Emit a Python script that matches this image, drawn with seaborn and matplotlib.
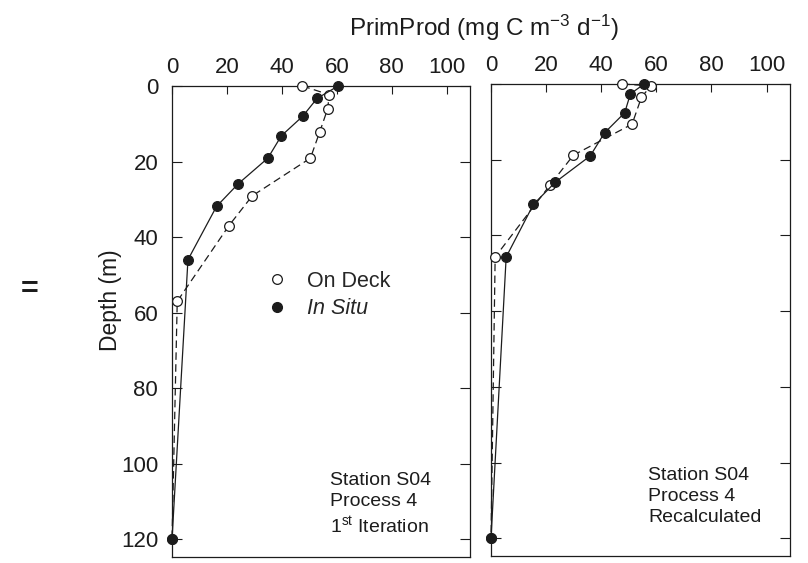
import matplotlib
matplotlib.use("Agg")
import matplotlib.pyplot as plt
import seaborn as sns
from matplotlib.lines import Line2D

# left panel: Station S04, Process 4, 1st iteration
iter_insitu_prod = [60.5, 52.8, 47.6, 39.8, 34.9, 24.1, 16.2, 5.8, 0.0]
iter_insitu_depth = [0, 3.3, 8.0, 13.2, 19.1, 25.9, 31.9, 46.0, 120]
iter_deck_prod = [47.5, 57.2, 56.7, 53.8, 50.4, 29.2, 20.7, 1.9, 0.0]
iter_deck_depth = [0, 2.3, 6.0, 12.1, 19.1, 29.1, 37.0, 57.0, 120]

# right panel: Station S04, Process 4, recalculated
recalc_insitu_prod = [55.6, 50.6, 48.5, 41.2, 36.0, 23.4, 15.4, 5.5, 0.0]
recalc_insitu_depth = [0, 2.6, 7.6, 12.9, 19.0, 25.9, 31.8, 45.7, 120]
recalc_deck_prod = [47.7, 58.0, 54.6, 51.2, 29.9, 21.4, 1.5, 0.0]
recalc_deck_depth = [0, 0.5, 3.5, 10.6, 18.8, 26.7, 45.7, 120]

x_ticks = [0, 20, 40, 60, 80, 100]
y_ticks = [0, 20, 40, 60, 80, 100, 120]

ink = "#1c1c1c"

sns.set_style("ticks")
plt.rcParams["font.family"] = ["Liberation Sans", "DejaVu Sans"]
plt.rcParams["mathtext.default"] = "regular"

fig = plt.figure(figsize=(8.08, 5.63), dpi=100)
ax1 = fig.add_axes([0.2129, 0.0107, 0.3688, 0.8366])
ax2 = fig.add_axes([0.6077, 0.0124, 0.3700, 0.8384])


def draw_panel(ax, insitu_x, insitu_y, deck_x, deck_y):
    sns.lineplot(x=deck_x, y=deck_y, sort=False, estimator=None, ax=ax,
                 color=ink, linewidth=0.9, linestyle=(0, (6, 3.5)),
                 marker="o", markersize=7, markerfacecolor="white",
                 markeredgecolor=ink, markeredgewidth=0.9, clip_on=False, zorder=3)
    sns.lineplot(x=insitu_x, y=insitu_y, sort=False, estimator=None, ax=ax,
                 color=ink, linewidth=0.9,
                 marker="o", markersize=7, markerfacecolor=ink,
                 markeredgecolor=ink, markeredgewidth=0.9, clip_on=False, zorder=4)
    ax.set_xlim(0, 108.5)
    ax.set_ylim(124.7, 0)
    ax.set_xticks(x_ticks)
    ax.set_yticks(y_ticks)
    ax.set_xlabel("")
    ax.set_ylabel("")
    ax.xaxis.tick_top()
    ax.tick_params(axis="x", direction="in", length=6, width=0.8, pad=6,
                   labelsize=16, top=True, bottom=False,
                   labeltop=True, labelbottom=False, colors=ink)
    ax.tick_params(axis="y", direction="in", length=7, width=0.8, pad=10,
                   labelsize=16, left=True, right=True, colors=ink)
    for s in ax.spines.values():
        s.set_visible(True)
        s.set_linewidth(0.9)
        s.set_color(ink)


draw_panel(ax1, iter_insitu_prod, iter_insitu_depth, iter_deck_prod, iter_deck_depth)
draw_panel(ax2, recalc_insitu_prod, recalc_insitu_depth, recalc_deck_prod, recalc_deck_depth)
ax2.tick_params(axis="y", labelleft=False)

ax1.set_ylabel("Depth (m)", fontsize=16.5, color=ink)
ax1.yaxis.set_label_coords(-0.168, 0.546)

handles = [
    Line2D([], [], linestyle="none", marker="o", markersize=7,
           markerfacecolor="white", markeredgecolor=ink, markeredgewidth=0.9),
    Line2D([], [], linestyle="none", marker="o", markersize=7,
           markerfacecolor=ink, markeredgecolor=ink),
]
leg = ax1.legend(handles, ["On Deck", "In Situ"], loc="center left",
                 bbox_to_anchor=(0.322, 0.556), frameon=False, fontsize=15.5,
                 handlelength=0.8, handletextpad=1.0, labelspacing=0.3,
                 borderaxespad=0, borderpad=0)
leg.get_texts()[1].set_style("italic")

ax1.text(0.53, 0.18, "Station S04\nProcess 4\n1$^{st}$ Iteration",
         transform=ax1.transAxes, ha="left", va="top", fontsize=14,
         color=ink, linespacing=1.3)
ax2.text(0.525, 0.188, "Station S04\nProcess 4\nRecalculated",
         transform=ax2.transAxes, ha="left", va="top", fontsize=14,
         color=ink, linespacing=1.3)

fig.text(484 / 808, 1 - 36 / 563, "PrimProd (mg C m$^{-3}$ d$^{-1}$)",
         ha="center", va="baseline", fontsize=17.5, color=ink)
fig.text(30 / 808, 1 - 290 / 563, "=", ha="center", va="center",
         fontsize=22, fontweight="bold", color=ink)

fig.savefig("out.png", dpi=100, facecolor="white")
